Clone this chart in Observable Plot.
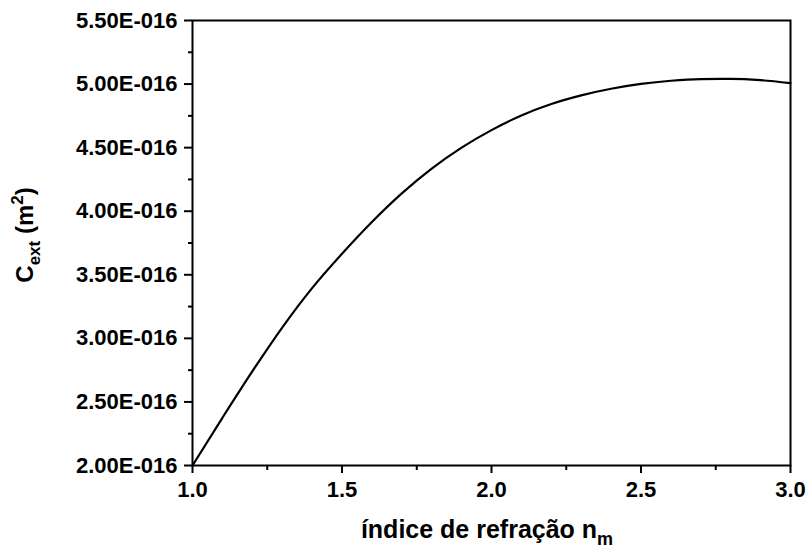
<!DOCTYPE html>
<html>
<head>
<meta charset="utf-8">
<script src="https://cdn.jsdelivr.net/npm/d3@7"></script>
<script src="https://cdn.jsdelivr.net/npm/@observablehq/plot@0.6"></script>
<style>
  html, body { margin: 0; padding: 0; background: #fff; }
  #chart { width: 807px; height: 548px; }
</style>
</head>
<body>
<div id="chart"></div>
<script>
// refractive index of the medium n_m
const nm = [1.0, 1.1, 1.2, 1.3, 1.4, 1.5, 1.6, 1.7, 1.8, 1.9, 2.0,
            2.1, 2.2, 2.3, 2.4, 2.5, 2.6, 2.7, 2.8, 2.9, 3.0];
// extinction cross-section, in units of 1E-016 m^2
const cext = [2.000, 2.375, 2.740, 3.085, 3.395, 3.665, 3.915, 4.140, 4.335, 4.500, 4.638,
              4.753, 4.843, 4.911, 4.963, 5.001, 5.026, 5.039, 5.041, 5.031, 5.007];

const xMajor = [1.0, 1.5, 2.0, 2.5, 3.0];
const xMinor = [1.25, 1.75, 2.25, 2.75];
const yMajor = [2.0, 2.5, 3.0, 3.5, 4.0, 4.5, 5.0, 5.5];
const yMinor = [2.25, 2.75, 3.25, 3.75, 4.25, 4.75, 5.25];

const data = nm.map((x, i) => ({x, y: cext[i]}));

const W = 807, H = 548;
const mL = 192, mR = 17, mT = 20, mB = 83;

const chart = Plot.plot({
  width: W, height: H,
  marginLeft: mL, marginRight: mR, marginTop: mT, marginBottom: mB,
  x: {domain: [1, 3]},
  y: {domain: [2, 5.5]},
  style: {
    fontFamily: "'Liberation Sans', Arial, sans-serif",
    fontSize: "22px",
    fontWeight: "bold",
    color: "black",
    background: "white"
  },
  marks: [
    Plot.axisX({ticks: xMajor, tickSize: 8, tickPadding: 8, strokeWidth: 2,
                tickFormat: d => d.toFixed(1), label: null}),
    Plot.axisX({ticks: xMinor, tickSize: 5, strokeWidth: 2, text: null, label: null}),
    Plot.axisY({ticks: yMajor, tickSize: 8, tickPadding: 7, strokeWidth: 2,
                tickFormat: d => d.toFixed(2) + "E-016", label: null}),
    Plot.axisY({ticks: yMinor, tickSize: 4, strokeWidth: 2, text: null, label: null}),
    Plot.line(data, {x: "x", y: "y", stroke: "black", strokeWidth: 2.2, curve: "monotone-x"}),
    Plot.frame({stroke: "black", strokeWidth: 2})
  ]
});

const svg = d3.select(chart);
const font = "'Liberation Sans', Arial, sans-serif";

// x-axis label with subscript
const xl = svg.append("text")
  .attr("x", (mL + (W - mR)) / 2 - 4)
  .attr("y", 538)
  .attr("text-anchor", "middle")
  .attr("font-family", font)
  .attr("font-size", 25)
  .attr("font-weight", "bold")
  .attr("fill", "black");
xl.append("tspan").text("índice de refração n");
xl.append("tspan").attr("font-size", 18).attr("dy", 7).text("m");

// y-axis label with subscript and superscript
const yl = svg.append("text")
  .attr("transform", `translate(33,235) rotate(-90)`)
  .attr("text-anchor", "middle")
  .attr("font-family", font)
  .attr("font-size", 24)
  .attr("font-weight", "bold")
  .attr("fill", "black");
yl.append("tspan").text("C");
yl.append("tspan").attr("font-size", 17).attr("dy", 7).text("ext");
yl.append("tspan").attr("dy", -7).text(" (m");
yl.append("tspan").attr("font-size", 17).attr("dy", -10).text("2");
yl.append("tspan").attr("dy", 10).text(")");

document.getElementById("chart").appendChild(chart);
</script>
</body>
</html>
